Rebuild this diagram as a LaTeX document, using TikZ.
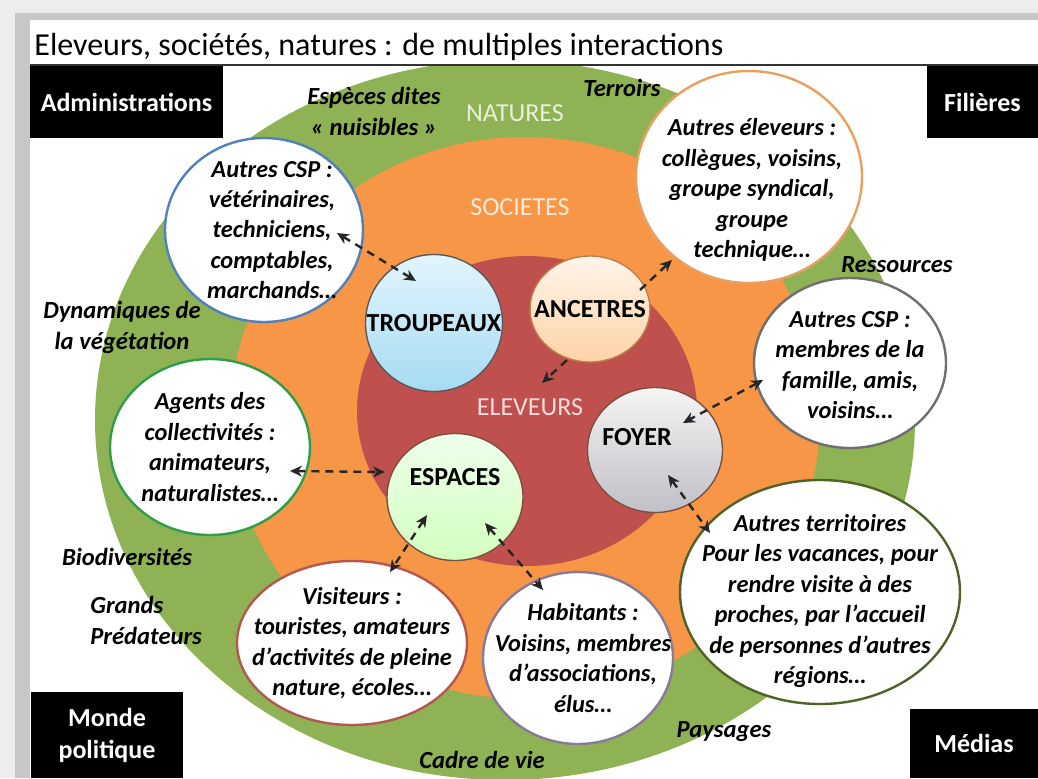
\documentclass[tikz,border=0pt]{standalone}
\usepackage{fontspec}
\setmainfont{Carlito}
\usetikzlibrary{calc, shapes.geometric, arrows.meta}

\definecolor{natGreen}{HTML}{8FB254}
\definecolor{socOrange}{HTML}{F79646}
\definecolor{elevRed}{HTML}{C0504D}
\definecolor{rimBlue}{HTML}{4F81BD}
\definecolor{rimOrange}{HTML}{E8A061}
\definecolor{rimGrey}{HTML}{6F6F6F}
\definecolor{rimGreen}{HTML}{2E9E48}
\definecolor{rimDark}{HTML}{4F6228}
\definecolor{rimPurple}{HTML}{8A7A9A}
\definecolor{rimRed}{HTML}{B5574F}
\definecolor{coreRim}{HTML}{7A5040}
\definecolor{herdTop}{HTML}{E2F5FD}
\definecolor{herdBot}{HTML}{A6DBF2}

\begin{document}
\begin{tikzpicture}[x=0.5pt, y=-0.5pt, >={Stealth[length=6pt,width=5.5pt]},
  outer/.style={ellipse, fill=white, line width=1.2pt, inner sep=0pt},
  core/.style={ellipse, draw=coreRim, line width=0.7pt, inner sep=0pt},
  txt/.style={align=center, font=\fontsize{12.2}{15.2}\selectfont\bfseries\itshape},
  coretxt/.style={font=\fontsize{13}{15}\selectfont\bfseries},
  ringtxt/.style={font=\fontsize{13}{15}\selectfont, text=white, text opacity=0.8},
  tag/.style={align=center, font=\fontsize{12.3}{15.5}\selectfont\bfseries\itshape},
  blackbox/.style={fill=black, text=white, align=center, inner sep=0pt,
    font=\fontsize{13}{16}\selectfont\bfseries},
  link/.style={line width=1.2pt, dash pattern=on 4pt off 3pt, draw=black!85}]
  \useasboundingbox (0,0) rectangle (1038,778);
  % slide frame
  \fill[black!7] (0,0) rectangle (1038,778);
  \fill[black!22] (15,13) rectangle (1038,778);
  \fill[white] (30,20) rectangle (1038,778);
  \node[anchor=base west, inner sep=0pt, font=\fontsize{16}{18}\selectfont] (title) at (34,55)
    {Eleveurs, sociétés, natures : de multiples interactions};
  \draw[line width=1pt, black!80] (30,65) -- (1038,65);
  % the three rings
  \begin{scope}
    \clip (30,66) rectangle (1038,778);
    \fill[natGreen] (505,420) ellipse (410 and 360);
    \fill[socOrange] (525,418) ellipse (295 and 281);
    \fill[elevRed] (527,411) ellipse (170 and 155);
  \end{scope}
  \node[ringtxt] (natures) at (515,113) {NATURES};
  \node[ringtxt] (societes) at (520,207) {SOCIETES};
  \node[ringtxt] (eleveurs) at (530,407) {ELEVEURS};
  % corner boxes
  \node[blackbox, minimum width=96.5pt, minimum height=36pt] (admin) at (126.5,102) {Administrations};
  \node[blackbox, minimum width=55.5pt, minimum height=36pt] (filieres) at (982.5,102) {Filières};
  \node[blackbox, minimum width=76pt, minimum height=43pt] (monde) at (107,735) {Monde\\politique};
  \node[blackbox, minimum width=64pt, minimum height=34.5pt] (medias) at (974,743.5) {Médias};
  % outer partners
  \node[outer, draw=rimBlue, minimum width=99pt, minimum height=92pt,
    label={[txt, xshift=4pt]center:{Autres CSP :\\vétérinaires,\\techniciens,\\comptables,\\marchands…}}] (cspA) at (264,230) {};
  \node[outer, draw=rimOrange, minimum width=113pt, minimum height=106pt,
    label={[txt, xshift=1.5pt, yshift=-6.5pt]center:{Autres éleveurs :\\collègues, voisins,\\groupe syndical,\\groupe\\technique…}}] (autresElev) at (749,177) {};
  \node[outer, draw=rimGrey, minimum width=96pt, minimum height=85pt,
    label={[txt, yshift=-1pt]center:{Autres CSP :\\membres de la\\famille, amis,\\voisins…}}] (cspB) at (850,363) {};
  \node[outer, draw=rimGreen, minimum width=100pt, minimum height=88pt,
    label={[txt]center:{Agents des\\collectivités :\\animateurs,\\naturalistes…}}] (agents) at (210,447) {};
  \node[outer, draw=rimDark, minimum width=140pt, minimum height=112pt,
    label={[txt, yshift=-4.5pt]center:{Autres territoires\\Pour les vacances, pour\\rendre visite à des\\proches, par l’accueil\\de personnes d’autres\\régions…}}] (territoires) at (820,592) {};
  \node[outer, draw=rimPurple, minimum width=95pt, minimum height=86pt,
    label={[txt, xshift=2.5pt]center:{Habitants :\\Voisins, membres\\d’associations,\\élus…}}] (habitants) at (578,658) {};
  \node[outer, draw=rimRed, minimum width=115pt, minimum height=82pt,
    label={[txt]center:{Visiteurs :\\touristes, amateurs\\d’activités de pleine\\nature, écoles…}}] (visiteurs) at (352,643) {};
  % core of the farm
  \node[core, draw=black!65, top color=herdTop, bottom color=herdBot,
    minimum width=68.5pt, minimum height=68.5pt, label={[coretxt]center:TROUPEAUX}] (troupeaux) at (434,323) {};
  \node[core, draw=rimOrange!80!black, top color=orange!8, bottom color=orange!35,
    minimum width=60pt, minimum height=53pt, label={[coretxt]center:ANCETRES}] (ancetres) at (590,309) {};
  \node[core, top color=black!4, bottom color=blue!10!black!25,
    minimum width=67.5pt, minimum height=62.5pt, label={[coretxt, xshift=-9pt, yshift=6.5pt]center:FOYER}] (foyer) at (655,450) {};
  \node[core, top color=yellow!15!green!8, bottom color=yellow!30!green!25,
    minimum width=68pt, minimum height=63.5pt, label={[coretxt, yshift=10pt]center:ESPACES}] (espaces) at (455,497) {};
  % natures keywords
  \node[tag] (especes) at (374,111) {Espèces dites\\« nuisibles »};
  \node[tag] (terroirs) at (622,88) {Terroirs};
  \node[tag] (ressources) at (897,265) {Ressources};
  \node[tag] (dynamiques) at (122,327) {Dynamiques de\\la végétation};
  \node[tag] (biodiv) at (127,557) {Biodiversités};
  \node[tag, anchor=west, align=left, inner sep=0pt] (predateurs) at (90,620) {Grands\\Prédateurs};
  \node[tag] (cadre) at (482,760) {Cadre de vie};
  \node[tag] (paysages) at (724,732) {Paysages};
  % interactions
  \draw[link, <->] ($(cspA)+(73,3)$) -- ($(troupeaux)+(-18,-42)$);
  \draw[link, ->] ($(ancetres)+(50,-19)$) -- ($(autresElev)+(-77,83)$);
  \draw[link, ->] ($(ancetres)+(-23,51)$) -- ($(eleveurs)+(12,-24)$);
  \draw[link, <->] ($(cspB)+(-87,17)$) -- ($(foyer)+(28,-27)$);
  \draw[link, <->] ($(foyer)+(13,25)$) -- ($(territoires)+(-110,-59)$);
  \draw[link, <->] ($(agents)+(80,24)$) -- ($(espaces)+(-70,-25)$);
  \draw[link, <->] ($(espaces)+(-28,18)$) -- ($(visiteurs)+(38,-71)$);
  \draw[link, <->] ($(espaces)+(30,26)$) -- ($(habitants)+(-35,-68)$);
\end{tikzpicture}
\end{document}
